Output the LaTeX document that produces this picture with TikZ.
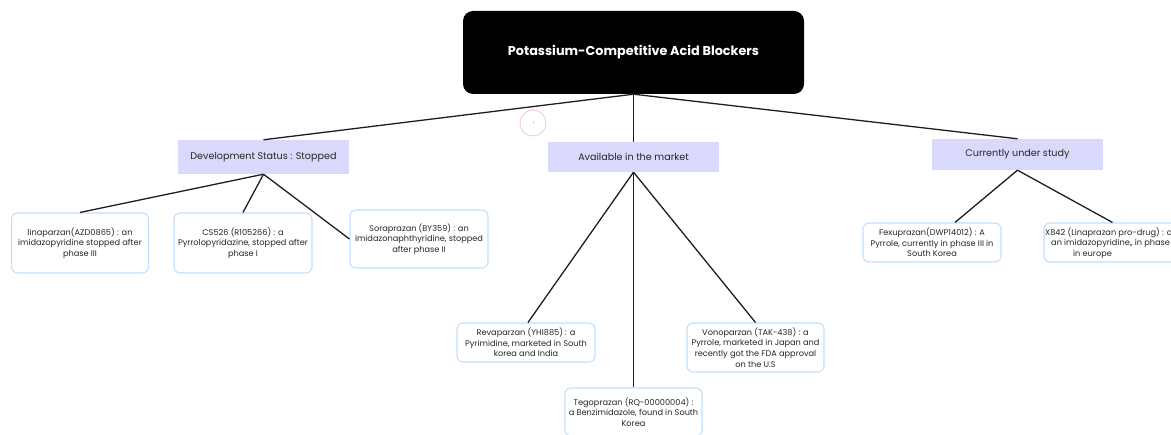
\documentclass[tikz,border=0pt]{standalone}
\usepackage{fontspec}
\setmainfont{Poppins}
\usetikzlibrary{calc}
\definecolor{catfill}{HTML}{D9D9FB}
\definecolor{leafline}{HTML}{C4DEFF}
\definecolor{edgecol}{HTML}{1E1E1E}
\definecolor{cursor}{HTML}{F6C4C4}
\begin{document}
\begin{tikzpicture}[x=1pt,y=-1pt,
  rootbox/.style={fill=black, rounded corners=10pt, text=white, inner sep=0pt,
    font=\fontsize{12.8}{15}\selectfont\bfseries, minimum width=341pt, minimum height=83pt},
  catbox/.style={fill=catfill, inner sep=0pt, text=black!85,
    font=\fontsize{9.6}{11}\selectfont, minimum width=171pt},
  leafbox/.style={draw=leafline, line width=1.1pt, rounded corners=6pt, fill=white,
    inner sep=0pt, align=center, text=black!85,
    font=\fontsize{8.2}{10.6}\selectfont, minimum width=137pt},
  leaftext/.style={inner sep=0pt, anchor=west, text=black!85, font=\fontsize{8.2}{10.6}\selectfont},
  edge/.style={draw=edgecol, line width=1.3pt}
]
\useasboundingbox (0,0) rectangle (1171,435);

% cursor mark
\draw[cursor, line width=0.8pt] (533,123) circle (13);
\draw[cursor, line width=0.8pt] (533,121) -- (533,124);

\node[rootbox] (root) at (633.5,52.5) {Potassium-Competitive Acid Blockers};

\node[catbox, minimum height=34pt] (dev) at (263.5,157) {Development Status : Stopped};
\node[catbox, minimum height=30pt] (avail) at (633.5,157) {Available in the market};
\node[catbox, minimum height=31pt] (study) at (1017.5,154.5) {Currently under study};

\node[leafbox, minimum height=60pt] (lina) at (80,243) {linaparzan(AZD0865) : an\\imidazopyridine stopped after\\phase III};
\node[leafbox, minimum height=60pt, minimum width=138pt] (cs) at (243,243) {CS526 (R105266) : a\\Pyrrolopyridazine, stopped after\\phase I};
\node[leafbox, minimum height=58pt, minimum width=138pt] (sora) at (419,239) {Soraprazan (BY359) : an\\imidazonaphthyridine, stopped\\after phase II};

\node[leafbox, minimum height=39pt, minimum width=138pt] (reva) at (526,342.5) {Revaparzan (YHI885) : a\\Pyrimidine, marketed in South\\korea and India};
\node[leafbox, minimum height=49pt] (vono) at (755.5,347.5) {Vonoparzan (TAK-438) : a\\Pyrrole, marketed in Japan and\\recently got the FDA approval\\on the U.S};
\node[leafbox, minimum height=48pt] (tego) at (633.5,412) {Tegoprazan (RQ-00000004) :\\a Benzimidazole, found in South\\Korea};

\node[leafbox, minimum height=39pt, minimum width=138pt] (fexu) at (932,242.5) {Fexuprazan(DWP14012) : A\\Pyrrole, currently in phase III in\\South Korea};
\node[leafbox, minimum height=39pt] (x842) at (1112.5,242.5) {};
\node[leaftext] (x842a) at (1045,233) {X842 (Linaprazan pro-drug) : a};
\node[leaftext] (x842b) at (1051,243.5) {an imidazopyridine,, in phase I};
\node[leaftext] (x842c) at (1073,254) {in europe};

\draw[edge] (root.south) -- (dev.north);
\draw[edge] (root.south) -- (avail.north);
\draw[edge] (root.south) -- (study.north);

\draw[edge] (dev.south) -- (lina.north);
\draw[edge] (dev.south) -- (cs.north);
\draw[edge] (dev.south) -- (sora.west);

\draw[edge] (avail.south) -- ([xshift=2pt]reva.north);
\draw[edge] (avail.south) -- (tego.north);
\draw[edge] (avail.south) -- (vono.north);

\draw[edge] (study.south) -- ([xshift=23pt]fexu.north);
\draw[edge] (study.south) -- (x842.north);
\end{tikzpicture}
\end{document}
